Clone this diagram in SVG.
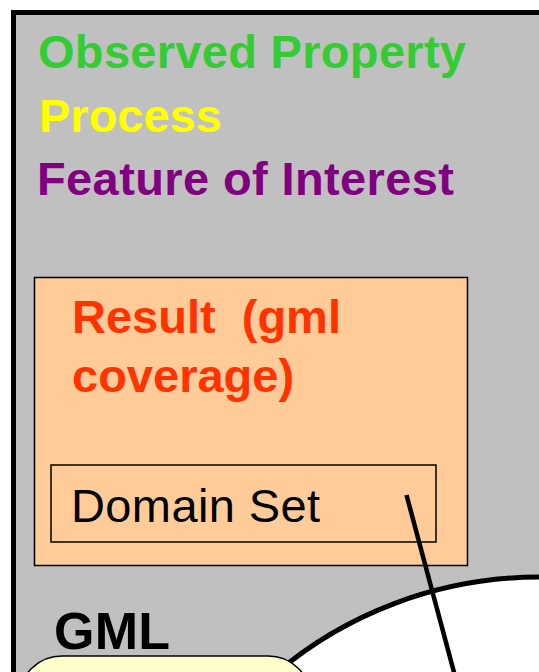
<svg xmlns="http://www.w3.org/2000/svg" width="539" height="672" viewBox="0 0 539 672">
  <style>
    .bold { font-family: "Liberation Sans", Arial, sans-serif; font-weight: bold; font-size: 47px; white-space: pre; }
    .plain { font-family: "Liberation Sans", Arial, sans-serif; font-size: 47px; }
  </style>
  <rect width="539" height="672" fill="#ffffff"/>

  <!-- outer observation panel -->
  <g id="observation">
    <rect x="13.5" y="12.5" width="560" height="700" fill="#c0c0c0" stroke="#000000" stroke-width="5"/>
    <text class="bold" x="38" y="68" fill="#33cc33" textLength="428">Observed Property</text>
    <text class="bold" x="39" y="131.5" fill="#ffff00">Process</text>
    <text class="bold" x="37" y="195" fill="#800080" textLength="417">Feature of Interest</text>
  </g>

  <!-- result coverage -->
  <g id="result">
    <rect x="34.5" y="277.5" width="433" height="288" fill="#ffcc99" stroke="#000000" stroke-width="1.5"/>
    <text class="bold" x="72" y="333" fill="#ff3300">Result  (gml</text>
    <text class="bold" x="72" y="391.5" fill="#ff3300">coverage)</text>
  </g>

  <g id="domain-set">
    <rect x="51" y="465" width="385" height="77" fill="#ffcc99" stroke="#000000" stroke-width="1.5"/>
    <text class="plain" x="71" y="521.5" fill="#000000" textLength="249">Domain Set</text>
  </g>

  <!-- GML label -->
  <g id="gml">
    <text class="bold" x="54" y="649" fill="#000000" style="font-size:52px" textLength="116">GML</text>
  </g>

  <!-- geometry region -->
  <g id="geometry">
    <ellipse cx="540" cy="955" rx="396" ry="378" fill="#ffffff" stroke="#000000" stroke-width="5"/>
  </g>

  <g id="gml-box">
    <rect x="20" y="656" width="290" height="80" rx="42" ry="42" fill="#ffffcc" stroke="#000000" stroke-width="1.5"/>
  </g>

  <!-- connectors -->
  <g id="connectors">
    <line x1="406.5" y1="495" x2="455" y2="676" stroke="#000000" stroke-width="4.5"/>
  </g>
</svg>
